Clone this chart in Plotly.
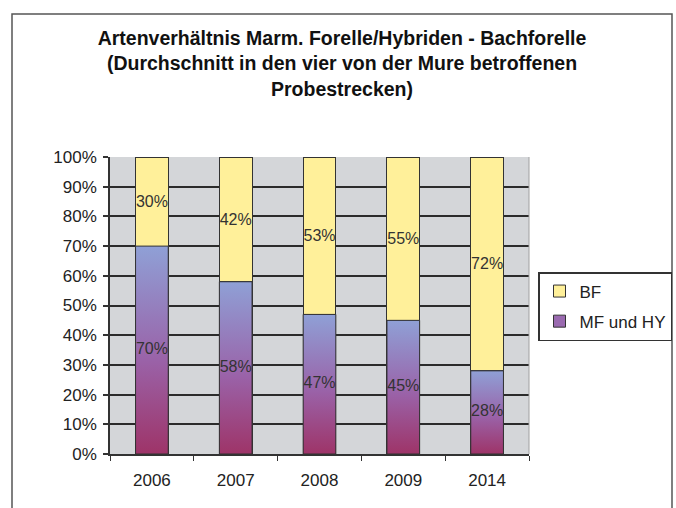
import plotly.graph_objects as go

years = ["2006", "2007", "2008", "2009", "2014"]
mf_hy = [70, 58, 47, 45, 28]   # MF und HY (%)
bf = [30, 42, 53, 55, 72]      # BF (%)
series_names = ["BF", "MF und HY"]
title_lines = [
    "Artenverhältnis Marm. Forelle/Hybriden - Bachforelle",
    "(Durchschnitt in den vier von der Mure betroffenen",
    "Probestrecken)",
]

FONT = "Liberation Sans, Arial, sans-serif"
W, H = 676, 508
ML, MR, MT, MB = 110, 147, 157, 54
PW, PH = W - ML - MR, H - MT - MB
BAR_W = 0.39
idx = list(range(len(years)))

def px_x(p):
    return (p - ML) / PW

def px_y(p):
    return (H - MB - p) / PH

fig = go.Figure()

fig.add_trace(go.Bar(
    x=idx, y=mf_hy, name=series_names[1], width=BAR_W,
    marker=dict(color="#9A6AB0", line=dict(color="#333333", width=1)),
    legendrank=2, legendgroup="mf", hoverinfo="skip",
))
fig.add_trace(go.Bar(
    x=idx, y=bf, name=series_names[0], width=BAR_W,
    marker=dict(color="#FFF09A", line=dict(color="#333333", width=1)),
    text=[f"{v}%" for v in bf], textposition="inside", textangle=0,
    insidetextanchor="middle", constraintext="none",
    insidetextfont=dict(family=FONT, size=16, color="#333333"),
    legendrank=1, legendgroup="bf", hoverinfo="skip",
))

# vertical gradient overlay for the MF und HY bars (same data, same axes)
grad = [[0, "#9E3468"], [0.45, "#9A62A8"], [1, "#8FA0D6"]]
for i, v in zip(idx, mf_hy):
    x0, x1 = i - BAR_W / 2, i + BAR_W / 2
    fig.add_trace(go.Scatter(
        x=[x0, x1, x1, x0, x0], y=[0, 0, v, v, 0],
        mode="lines", fill="toself",
        fillgradient=dict(type="vertical", colorscale=grad, start=0, stop=v),
        line=dict(color="#333333", width=1),
        showlegend=False, hoverinfo="skip",
    ))

fig.add_trace(go.Scatter(
    x=idx, y=[v / 2 for v in mf_hy], mode="text",
    text=[f"{v}%" for v in mf_hy],
    textfont=dict(family=FONT, size=16, color="#333333"),
    showlegend=False, hoverinfo="skip",
))

fig.update_layout(
    width=W, height=H,
    margin=dict(l=ML, r=MR, t=MT, b=MB, autoexpand=False),
    barmode="stack",
    paper_bgcolor="white",
    plot_bgcolor="#D4D6D9",
    font=dict(family=FONT, size=17, color="#222222"),
    title=dict(
        text="<br>".join(title_lines),
        x=342 / W, xanchor="center", xref="container",
        y=1 - 45 / H, yanchor="top", yref="container",
        font=dict(family=FONT, size=19.5, color="#111111", weight="bold"),
    ),
    showlegend=True,
    legend=dict(
        x=px_x(538), xanchor="left", y=px_y(272), yanchor="top",
        traceorder="grouped", tracegroupgap=5,
        bordercolor="#333333", borderwidth=1.5,
        font=dict(family=FONT, size=17, color="#222222"),
        bgcolor="white",
    ),
    xaxis=dict(
        range=[-0.5, len(years) - 0.5],
        tickmode="array", tickvals=idx, ticktext=years,
        ticks="", showgrid=False, zeroline=False,
        showline=True, linecolor="#333333", linewidth=1.5,
        ticklabelstandoff=10,
        tickfont=dict(family=FONT, size=17, color="#222222"),
        minor=dict(tickmode="array",
                   tickvals=[k - 0.5 for k in range(len(years) + 1)],
                   ticks="outside", ticklen=5, tickcolor="#333333",
                   tickwidth=1, showgrid=False),
    ),
    yaxis=dict(
        range=[0, 100], dtick=10, ticksuffix="%",
        ticks="outside", ticklen=5, tickcolor="#333333", tickwidth=1.5,
        showline=True, linecolor="#333333", linewidth=1.5,
        showgrid=True, gridcolor="#2B2B2B", gridwidth=1.5,
        zeroline=False, ticklabelstandoff=3,
        tickfont=dict(family=FONT, size=17, color="#222222"),
    ),
    shapes=[
        dict(type="rect", xref="paper", yref="paper",
             x0=px_x(12), x1=px_x(672), y0=px_y(560), y1=px_y(14),
             line=dict(color="#555555", width=1.5), fillcolor="rgba(0,0,0,0)"),
        dict(type="line", xref="paper", yref="paper",
             x0=1, x1=1, y0=0, y1=1,
             line=dict(color="#A0A0A0", width=1)),
    ],
)

fig.write_html(
    "out.html",
    config={"displayModeBar": False},
    post_script="document.body.style.margin='0';document.body.style.overflow='hidden';",
)
